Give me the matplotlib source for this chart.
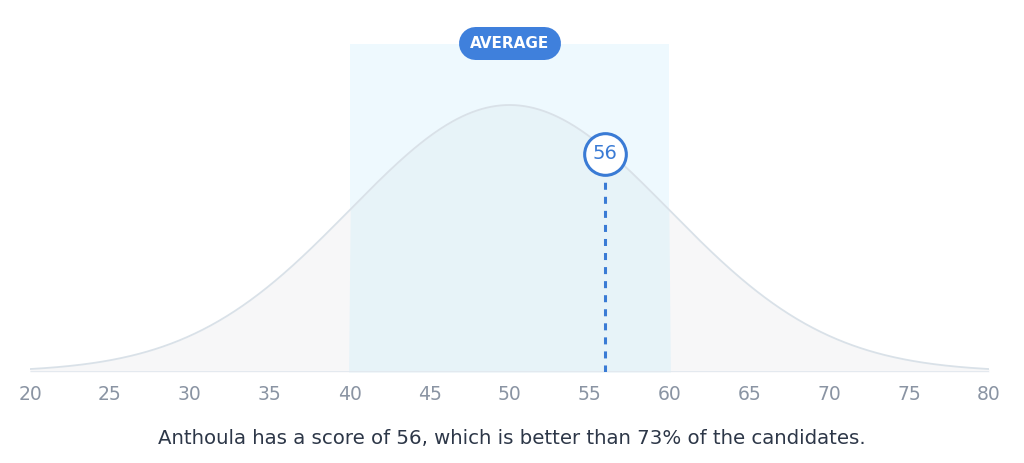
import numpy as np
import matplotlib
matplotlib.use("Agg")
import matplotlib.pyplot as plt
from matplotlib.transforms import offset_copy

# Data
mean = 50
sd = 10
x_min, x_max = 20, 80
band_low, band_high = 40, 60
score = 56
percentile = 73
name = "Anthoula"
tick_values = [20, 25, 30, 35, 40, 45, 50, 55, 60, 65, 70, 75, 80]
badge_label = "AVERAGE"

FONT = ["DejaVu Sans"]

W, H = 1024, 463
fig = plt.figure(figsize=(W / 100, H / 100), dpi=100)
fig.patch.set_facecolor("white")

left_px, right_px = 30, 989
base_px, top_px, peak_px = 372, 44, 105
ax = fig.add_axes([left_px / W, 1 - base_px / H, (right_px - left_px) / W, (base_px - top_px) / H])
ax.set_xlim(x_min, x_max)
ax.set_ylim(0, (base_px - top_px) / (base_px - peak_px))
ax.axis("off")
px_per_unit = base_px - peak_px

xs = np.linspace(x_min, x_max, 600)
ys = np.exp(-0.5 * ((xs - mean) / sd) ** 2)

ax.axvspan(band_low, band_high, ymin=0, ymax=1, color="#eef9fe", zorder=0, lw=0)
ax.fill_between(xs, 0, ys, color="#f7f7f8", zorder=1, lw=0)
inb = (xs >= band_low) & (xs <= band_high)
ax.fill_between(xs, 0, ys, where=inb, color="#e7f3f8", zorder=2, lw=0, interpolate=True)
ax.plot(xs, ys, color="#d9e1e8", lw=1.3, zorder=3)
ax.plot([x_min, x_max], [0, 0], color="#e2e8ee", lw=2, zorder=4, solid_capstyle="butt")

# score marker (circle sits slightly below the curve)
sy = np.exp(-0.5 * ((score - mean) / sd) ** 2)
shift = offset_copy(ax.transData, fig=fig, x=0, y=-5, units="dots")
ax.plot([score, score], [0, sy - 29 / px_per_unit], color="#3a7bd5", lw=2.2,
        ls=(0, (2.3, 2.3)), zorder=5)
ax.plot([score], [sy], marker="o", ms=30, mfc="white", mec="#3a7bd5", mew=2.2,
        zorder=6, transform=shift)
ax.text(score, sy, str(score), ha="center", va="center", color="#3a7bd5",
        fontsize=14, family=FONT, zorder=7, transform=shift)

for t in tick_values:
    fig.text((left_px + (t - x_min) * (right_px - left_px) / (x_max - x_min)) / W,
             1 - 394 / H, str(t), ha="center", va="center", color="#8a94a3",
             fontsize=13.5, family=FONT)

# overlay in pixel coordinates for the badge (pill = thick line with round caps)
ov = fig.add_axes([0, 0, 1, 1], zorder=10)
ov.set_xlim(0, W)
ov.set_ylim(H, 0)
ov.axis("off")
ov.patch.set_alpha(0)
cx, cy = (left_px + (mean - x_min) * (right_px - left_px) / (x_max - x_min)), 43.3
bw, bh = 102, 33
ov.plot([cx - bw / 2 + bh / 2, cx + bw / 2 - bh / 2], [cy, cy], color="#3f80dc",
        lw=bh * 72 / 100, solid_capstyle="round")
ov.text(cx, cy, badge_label, ha="center", va="center", color="white",
        fontsize=11, fontweight="bold", family=FONT)

fig.text(0.5, 1 - 439 / H,
         f"{name} has a score of {score}, which is better than {percentile}% of the candidates.",
         ha="center", va="center", color="#2d3748", fontsize=14.2, family=FONT)

fig.savefig("out.png", dpi=100, facecolor="white")
